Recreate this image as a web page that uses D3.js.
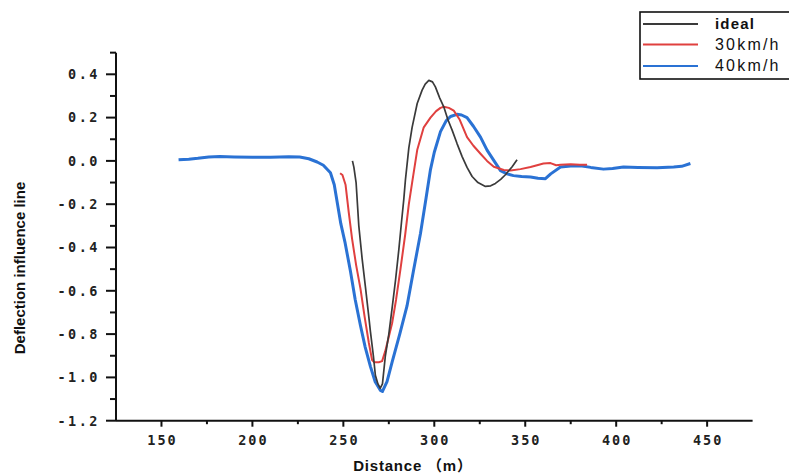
<!DOCTYPE html>
<html><head><meta charset="utf-8">
<script src="https://cdn.jsdelivr.net/npm/d3@7"></script>
<style>html,body{margin:0;padding:0;background:#fff;}svg{display:block;}</style>
</head><body>
<svg id="chart" width="789" height="473"></svg>
<script>
// ---- data ----
const seriesNames = ["ideal", "30km/h", "40km/h"];
const seriesColors = ["#3a3a3a", "#e0403f", "#2a72d4"];
const xTicks = [150, 200, 250, 300, 350, 400, 450];
const yTicks = [0.4, 0.2, 0.0, -0.2, -0.4, -0.6, -0.8, -1.0, -1.2];
const xLabel = "Distance （m）";
const yLabel = "Deflection influence line";

const idealX = [255,255.8,257,258.5,260.3,262.1,264,264.9,266.5,267.6,269,270.3,271.5,273.1,275,276.8,278.7,280.5,282,283.2,284.1,286,287.8,290.6,293.3,295,297,299,300.6,303,305.2,307.5,309.8,312.5,315.3,318,320.8,324,328.1,331,333.6,336.5,339.1,342.8,345.5];
const idealY = [0.0,-0.03,-0.1,-0.3,-0.45,-0.58,-0.72,-0.79,-0.9,-0.99,-1.03,-1.05,-1.03,-0.9,-0.8,-0.68,-0.55,-0.41,-0.28,-0.18,-0.09,0.06,0.155,0.265,0.327,0.355,0.372,0.365,0.342,0.29,0.25,0.19,0.142,0.08,0.02,-0.03,-0.072,-0.1,-0.118,-0.115,-0.104,-0.085,-0.064,-0.027,0.005];

const v30X = [248.2,249.5,251.2,253,254.8,257,259.4,261.7,264,265.8,267,269.5,271.3,273,276.8,279,281.4,284,286,288,290.6,294.2,297.9,301,303.4,305.2,308,310.7,314,318,321.5,325.4,329,332.7,338.2,341.9,347.4,352.9,356.5,360,363.9,367,369.4,375,380,384];
const v30Y = [-0.057,-0.065,-0.11,-0.24,-0.36,-0.48,-0.59,-0.72,-0.84,-0.92,-0.93,-0.93,-0.925,-0.88,-0.75,-0.64,-0.5,-0.34,-0.2,-0.09,0.05,0.155,0.2,0.23,0.245,0.25,0.245,0.232,0.19,0.11,0.07,0.033,0.0,-0.027,-0.042,-0.044,-0.038,-0.028,-0.02,-0.012,-0.01,-0.02,-0.018,-0.016,-0.018,-0.018];

const v40X = [159.4,165,170,176,182,190,200,210,220,226,231,235.6,239,242.9,245,246.8,248.6,251,253.9,256.5,259.4,262,264.9,267.5,270.4,271.5,274,276.8,281,285,288.5,292.4,295.5,297.9,300,303.4,306.5,308.9,312.5,315,318,321.5,325.4,329,332.5,336.4,340,343.5,348,352.9,357,361.1,364,369.4,375,380.3,386,393,398,404,412,422.5,431.6,436,440.8];
const v40Y = [0.005,0.008,0.012,0.018,0.02,0.018,0.017,0.017,0.019,0.018,0.01,-0.005,-0.02,-0.055,-0.11,-0.2,-0.29,-0.38,-0.51,-0.64,-0.76,-0.86,-0.95,-1.02,-1.06,-1.065,-1.02,-0.93,-0.8,-0.67,-0.51,-0.335,-0.17,-0.04,0.04,0.135,0.185,0.205,0.215,0.212,0.2,0.16,0.11,0.05,0.005,-0.045,-0.06,-0.068,-0.072,-0.074,-0.08,-0.082,-0.06,-0.028,-0.024,-0.022,-0.03,-0.038,-0.035,-0.028,-0.03,-0.032,-0.028,-0.025,-0.012];

// ---- chart ----
const svg = d3.select("#chart");
const x = d3.scaleLinear().domain([125, 475]).range([116, 752.6]);
const y = d3.scaleLinear().domain([-1.2, 0.5]).range([420.7, 52.65]);

const tickFont = "'DejaVu Sans Mono', monospace";

// Y axis
const yAxisG = svg.append("g").attr("transform", "translate(116,0)");
yAxisG.append("line").attr("x1",0).attr("x2",0).attr("y1",y(0.5)).attr("y2",y(-1.2))
  .attr("stroke","#111").attr("stroke-width",2);
const yMinor = d3.range(-11, 6, 2).map(d => d / 10);
yAxisG.selectAll(".ymaj").data(yTicks).join("line")
  .attr("x1",-10).attr("x2",0).attr("y1",d=>y(d)).attr("y2",d=>y(d))
  .attr("stroke","#111").attr("stroke-width",2);
yAxisG.selectAll(".ymin").data(yMinor).join("line")
  .attr("x1",-6).attr("x2",0).attr("y1",d=>y(d)).attr("y2",d=>y(d))
  .attr("stroke","#111").attr("stroke-width",2);
yAxisG.selectAll(".ylab").data(yTicks).join("text")
  .attr("x",-16).attr("y",d=>y(d)).attr("dy","0.36em")
  .attr("text-anchor","end")
  .attr("font-family",tickFont).attr("font-weight","bold").attr("font-size","13.5px")
  .attr("letter-spacing","2.5px").attr("fill","#222")
  .text(d => d3.format(".1f")(d).replace("−","-"));

// X axis
const xAxisG = svg.append("g").attr("transform", "translate(0,420.7)");
xAxisG.append("line").attr("x1",x(125)).attr("x2",x(475)).attr("y1",0).attr("y2",0)
  .attr("stroke","#111").attr("stroke-width",2);
const xMinor = d3.range(175, 450, 50);
xAxisG.selectAll(".xmaj").data(xTicks).join("line")
  .attr("x1",d=>x(d)).attr("x2",d=>x(d)).attr("y1",0).attr("y2",6)
  .attr("stroke","#111").attr("stroke-width",2);
xAxisG.selectAll(".xmin").data(xMinor).join("line")
  .attr("x1",d=>x(d)).attr("x2",d=>x(d)).attr("y1",0).attr("y2",3.5)
  .attr("stroke","#111").attr("stroke-width",2);
xAxisG.selectAll(".xlab").data(xTicks).join("text")
  .attr("x",d=>x(d)+1).attr("y",24)
  .attr("text-anchor","middle")
  .attr("font-family",tickFont).attr("font-weight","bold").attr("font-size","13.5px")
  .attr("letter-spacing","2px").attr("fill","#222")
  .text(d => d);

// axis titles
svg.append("text").attr("x",413).attr("y",471).attr("text-anchor","middle")
  .attr("font-family","'Liberation Sans', Arial, 'Noto Sans CJK SC', sans-serif")
  .attr("font-weight","bold").attr("font-size","15px").attr("letter-spacing","0.8px")
  .attr("fill","#111").text(xLabel);
svg.append("text").attr("transform","translate(25,268) rotate(-90)").attr("text-anchor","middle")
  .attr("font-family","'Liberation Sans', Arial, sans-serif")
  .attr("font-weight","bold").attr("font-size","15px")
  .attr("fill","#111").text(yLabel);

// lines
const line = d3.line().x(d=>x(d[0])).y(d=>y(d[1]));
const series = [
  {name: seriesNames[2], color: seriesColors[2], w: 3, pts: d3.zip(v40X, v40Y)},
  {name: seriesNames[1], color: seriesColors[1], w: 2, pts: d3.zip(v30X, v30Y)},
  {name: seriesNames[0], color: seriesColors[0], w: 1.7, pts: d3.zip(idealX, idealY)}
];
svg.append("g").selectAll("path").data(series).join("path")
  .attr("d", d => line(d.pts))
  .attr("fill","none").attr("stroke", d=>d.color).attr("stroke-width", d=>d.w)
  .attr("stroke-linejoin","round");

// legend
const lg = svg.append("g");
lg.append("rect").attr("x",640).attr("y",12).attr("width",170).attr("height",67)
  .attr("fill","#fff").attr("stroke","#111").attr("stroke-width",1.6);
const legItems = [0,1,2];
const legY = [24, 44.5, 66];
lg.selectAll(".ll").data(legItems).join("line")
  .attr("x1",643).attr("x2",698).attr("y1",i=>legY[i]).attr("y2",i=>legY[i])
  .attr("stroke",i=>seriesColors[i]).attr("stroke-width",1.8);
lg.selectAll(".lt").data(legItems).join("text")
  .attr("x",715).attr("y",i=>legY[i]+5)
  .attr("font-family","'Liberation Sans', Arial, sans-serif")
  .attr("font-weight", i => i===0 ? "bold" : "normal")
  .attr("font-size", i => i===0 ? "15px" : "16px")
  .attr("letter-spacing", i => i===0 ? "1.2px" : "2.2px")
  .attr("fill","#111")
  .text(i => seriesNames[i]);
</script>
</body></html>
